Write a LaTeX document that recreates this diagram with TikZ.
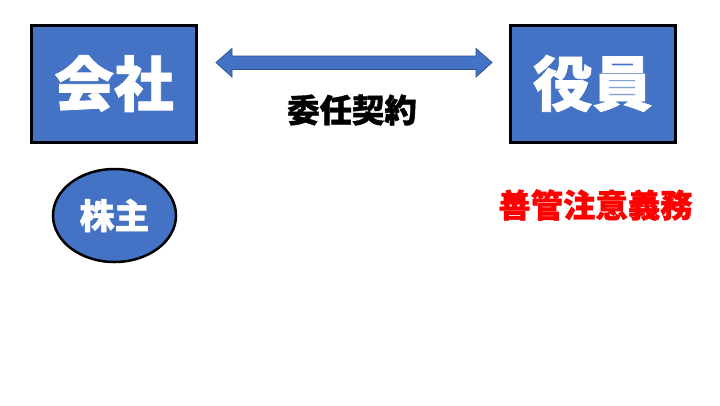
\documentclass[tikz,border=0pt]{standalone}
\usepackage{fontspec}
\newfontfamily\cjk{Noto Sans CJK JP}[BoldFeatures={FakeBold=1.2}]
\usetikzlibrary{shapes.geometric,shapes.arrows,calc}
\definecolor{boxblue}{HTML}{4472C4}
\definecolor{arrowline}{HTML}{2F528F}
\definecolor{dutyred}{HTML}{FF0000}
\tikzset{
  partybox/.style={draw=black,line width=3bp,fill=boxblue,minimum width=165bp,minimum height=117bp,inner sep=0pt,text=white,font=\cjk\bfseries\fontsize{60}{64}\selectfont},
  holder/.style={ellipse,draw=black,line width=2.5bp,fill=boxblue,minimum width=123bp,minimum height=93bp,inner sep=0pt,text=white,font=\cjk\bfseries\fontsize{35}{38}\selectfont},
  label/.style={inner sep=0pt,font=\cjk\bfseries\fontsize{32.5}{36}\selectfont}
}
\begin{document}
\begin{tikzpicture}[x=1bp,y=-1bp]
\useasboundingbox (0,0) rectangle (720,405);
\fill[white] (0,0) rectangle (720,405);
\node[partybox] (kaisha) at (114,83.5) {会社};
\node[partybox] (yakuin) at (592.5,83.5) {役員};
\node[holder] (kabunushi) at (114.5,215.5) {株主};
\coordinate (al) at (216,62.5);
\coordinate (ar) at (492,62.5);
\filldraw[fill=boxblue,draw=arrowline,line width=0.8bp]
  (al) -- ++(16,-14) -- ++(0,7.5) -- ($(ar)+(-16,-6.5)$) -- ++(0,-7.5) -- (ar)
  -- ++(-16,14.5) -- ++(0,-7.5) -- ($(al)+(16,7)$) -- ++(0,7.5) -- cycle;
\node[label] (keiyaku) at (352,110) {委任契約};
\node[label,text=dutyred] (zenkan) at (595.5,205) {善管注意義務};
\end{tikzpicture}
\end{document}
